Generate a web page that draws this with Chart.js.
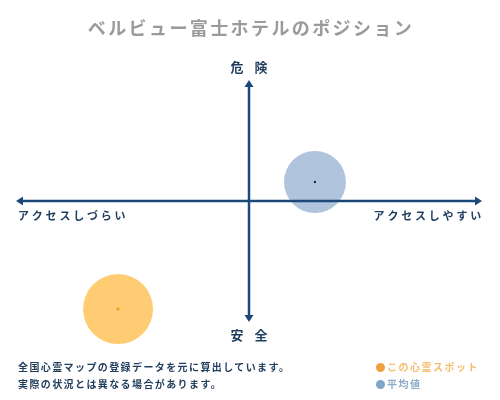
<!DOCTYPE html>
<html><head><meta charset="utf-8">
<script src="https://cdn.jsdelivr.net/npm/chart.js@4/dist/chart.umd.min.js"></script>
<style>
html,body{margin:0;padding:0;background:#fff;}
#wrap{position:relative;width:500px;height:400px;}
canvas{position:absolute;left:0;top:0;}
.foot{position:absolute;font-family:"Noto Sans CJK JP",sans-serif;font-weight:bold;font-size:10px;letter-spacing:1.4px;color:#1f3d5c;line-height:17px;white-space:nowrap;}
.leg{position:absolute;font-family:"Noto Sans CJK JP",sans-serif;font-weight:bold;font-size:10px;letter-spacing:1.5px;line-height:17px;white-space:nowrap;}
.dot{display:inline-block;width:9px;height:9px;border-radius:50%;margin-right:2px;vertical-align:-1px;}
</style>
</head><body>
<div id="wrap">
<canvas id="c" width="500" height="400"></canvas>
<div class="foot" style="left:18px;top:358px;">全国心霊マップの登録データを元に算出しています。<br>実際の状況とは異なる場合があります。</div>
<div class="leg" style="left:376px;top:358px;"><span style="color:#f4bd6e;"><span class="dot" style="background:#f0a040;"></span>この心霊スポット</span><br><span style="color:#8eabc9;"><span class="dot" style="background:#7fa5c8;"></span>平均値</span></div>
</div>
<script>
const titleText = "ベルビュー富士ホテルのポジション";
const axisTop = "危 険";
const axisBottom = "安 全";
const axisLeft = "アクセスしづらい";
const axisRight = "アクセスしやすい";
const seriesNames = ["この心霊スポット", "平均値"];
const spotX = [-5.62];
const spotY = [-8.93];
const spotR = [35];
const avgX = [2.83];
const avgY = [1.57];
const avgR = [31];

function pts(xs, ys, rs){ return xs.map((x,i)=>({x:x, y:ys[i], r:rs ? rs[i] : 0})); }

const axesPlugin = {
  id:'axesPlugin',
  beforeDatasetsDraw(chart){
    const ctx = chart.ctx;
    ctx.save();
    ctx.fillStyle = '#9a9a9a';
    ctx.font = 'bold 18px "Noto Sans CJK JP", sans-serif';
    ctx.textAlign = 'center'; ctx.textBaseline = 'middle';
    try{ ctx.letterSpacing = '2.4px'; }catch(e){}
    ctx.fillText(titleText, 251, 28);
    ctx.restore();
  },
  afterDatasetsDraw(chart){
    const ctx = chart.ctx, a = chart.chartArea;
    const xs = chart.scales.x, ys = chart.scales.y;
    const cx = xs.getPixelForValue(0), cy = ys.getPixelForValue(0);
    const col = '#1b4a7a';
    ctx.save();
    ctx.strokeStyle = col; ctx.fillStyle = col; ctx.lineWidth = 2.5;
    ctx.beginPath();
    ctx.moveTo(a.left+5, cy); ctx.lineTo(a.right-5, cy);
    ctx.moveTo(cx, a.top+5); ctx.lineTo(cx, a.bottom-5);
    ctx.stroke();
    const h = 7, w = 4.5;
    ctx.beginPath(); ctx.moveTo(a.left, cy); ctx.lineTo(a.left+h, cy-w); ctx.lineTo(a.left+h, cy+w); ctx.closePath(); ctx.fill();
    ctx.beginPath(); ctx.moveTo(a.right, cy); ctx.lineTo(a.right-h, cy-w); ctx.lineTo(a.right-h, cy+w); ctx.closePath(); ctx.fill();
    ctx.beginPath(); ctx.moveTo(cx, a.top); ctx.lineTo(cx-w, a.top+h); ctx.lineTo(cx+w, a.top+h); ctx.closePath(); ctx.fill();
    ctx.beginPath(); ctx.moveTo(cx, a.bottom); ctx.lineTo(cx-w, a.bottom-h); ctx.lineTo(cx+w, a.bottom-h); ctx.closePath(); ctx.fill();
    ctx.fillStyle = '#1f3d5c';
    ctx.font = 'bold 13px "Noto Sans CJK JP", sans-serif';
    ctx.textBaseline = 'middle'; ctx.textAlign = 'center';
    try{ ctx.letterSpacing = '4px'; }catch(e){}
    ctx.fillText(axisTop, cx+2, a.top-13);
    ctx.fillText(axisBottom, cx+2, a.bottom+13);
    ctx.font = 'bold 11px "Noto Sans CJK JP", sans-serif';
    try{ ctx.letterSpacing = '2.8px'; }catch(e){}
    ctx.textAlign = 'left';
    ctx.fillText(axisLeft, a.left+2, cy+15);
    ctx.textAlign = 'right';
    ctx.fillText(axisRight, a.right+2, cy+15);
    ctx.restore();
  }
};

new Chart(document.getElementById('c'), {
  type:'bubble',
  data:{
    datasets:[
      {label:seriesNames[0], data:pts(spotX, spotY, spotR), backgroundColor:'rgba(255,204,115,1)', borderWidth:0, clip:false, order:2},
      {label:seriesNames[1], data:pts(avgX, avgY, avgR), backgroundColor:'rgba(176,196,222,1)', borderWidth:0, clip:false, order:2},
      {type:'scatter', label:seriesNames[0]+' center', data:pts(spotX, spotY), pointRadius:2, pointStyle:'rectRot', backgroundColor:'#f0a020', borderWidth:0, clip:false, order:1},
      {type:'scatter', label:seriesNames[1]+' center', data:pts(avgX, avgY), pointRadius:1.2, backgroundColor:'#1f2f40', borderWidth:0, clip:false, order:1}
    ]
  },
  options:{
    responsive:false, animation:false, devicePixelRatio:1,
    layout:{autoPadding:false, padding:{left:16, right:18, top:80, bottom:78}},
    scales:{
      x:{type:'linear', min:-10, max:10, display:false},
      y:{type:'linear', min:-10, max:10, display:false}
    },
    plugins:{legend:{display:false}, title:{display:false}, tooltip:{enabled:false}}
  },
  plugins:[axesPlugin]
});
</script>
</body></html>
